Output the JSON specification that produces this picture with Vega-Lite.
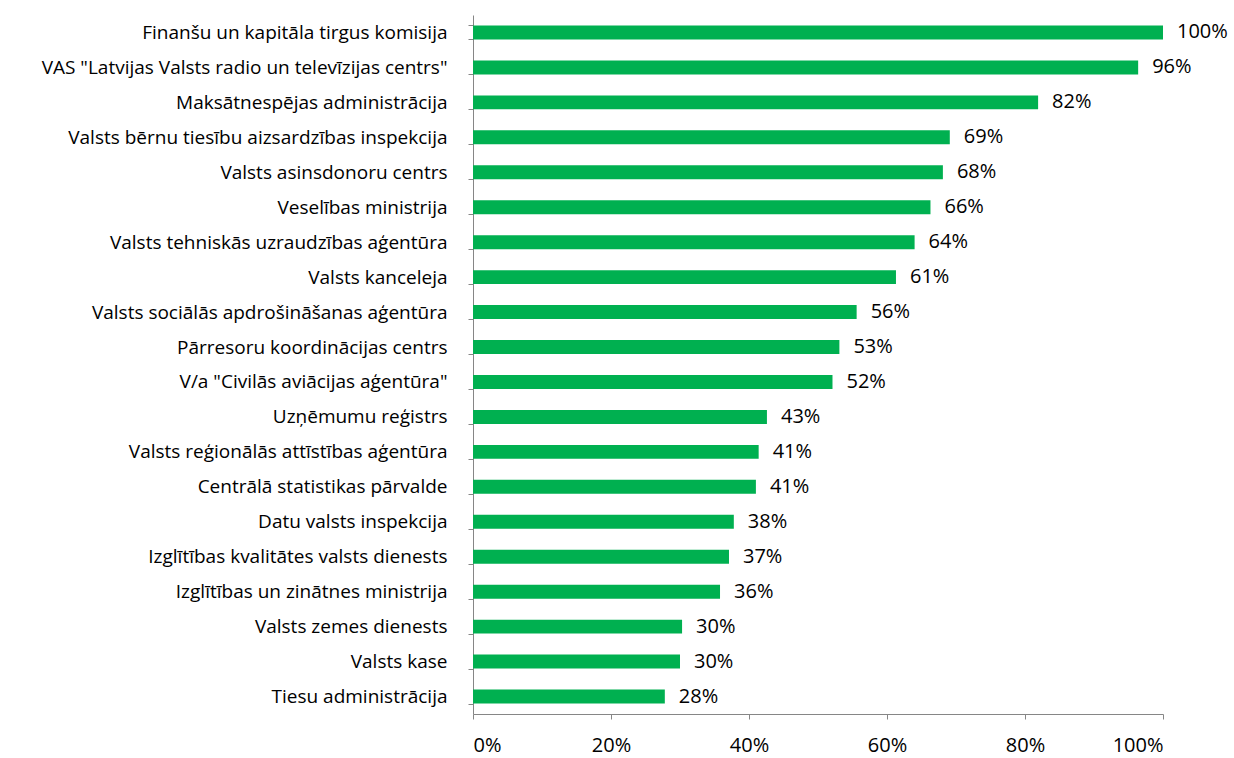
{
  "$schema": "https://vega.github.io/schema/vega-lite/v6.json",
  "autosize": "none",
  "padding": {"left": 473, "top": 15, "right": 71, "bottom": 44},
  "width": 690,
  "height": 699,
  "background": "white",
  "config": {
    "view": {"stroke": null},
    "font": "Open Sans",
    "axis": {"labelFont": "Open Sans", "labelFontSize": 19, "labelColor": "#000000", "domainColor": "#868686", "tickColor": "#868686", "grid": false, "title": null}
  },
  "data": {
    "values": [
      {"org": "Finanšu un kapitāla tirgus komisija", "v": 1.0},
      {"org": "VAS \"Latvijas Valsts radio un televīzijas centrs\"", "v": 0.964},
      {"org": "Maksātnespējas administrācija", "v": 0.819},
      {"org": "Valsts bērnu tiesību aizsardzības inspekcija", "v": 0.691},
      {"org": "Valsts asinsdonoru centrs", "v": 0.681},
      {"org": "Veselības ministrija", "v": 0.663},
      {"org": "Valsts tehniskās uzraudzības aģentūra", "v": 0.64},
      {"org": "Valsts kanceleja", "v": 0.613},
      {"org": "Valsts sociālās apdrošināšanas aģentūra", "v": 0.556},
      {"org": "Pārresoru koordinācijas centrs", "v": 0.531},
      {"org": "V/a \"Civilās aviācijas aģentūra\"", "v": 0.521},
      {"org": "Uzņēmumu reģistrs", "v": 0.426},
      {"org": "Valsts reģionālās attīstības aģentūra", "v": 0.414},
      {"org": "Centrālā statistikas pārvalde", "v": 0.41},
      {"org": "Datu valsts inspekcija", "v": 0.378},
      {"org": "Izglītības kvalitātes valsts dienests", "v": 0.371},
      {"org": "Izglītības un zinātnes ministrija", "v": 0.358},
      {"org": "Valsts zemes dienests", "v": 0.303},
      {"org": "Valsts kase", "v": 0.3},
      {"org": "Tiesu administrācija", "v": 0.278}
    ]
  },
  "encoding": {
    "y": {
      "field": "org", "type": "nominal", "sort": null,
      "scale": {"paddingInner": 0.6, "paddingOuter": 0.3},
      "axis": {"tickBand": "extent", "tickSize": 5, "labelPadding": 21, "labelLimit": 600}
    },
    "x": {
      "field": "v", "type": "quantitative",
      "scale": {"domain": [0, 1], "nice": false},
      "axis": {"format": ".0%", "values": [0, 0.2, 0.4, 0.6, 0.8, 1], "tickSize": 5, "labelPadding": 16, "labelFontSize": 20}
    }
  },
  "layer": [
    {"mark": {"type": "bar", "color": "#00B050"}},
    {
      "mark": {"type": "text", "align": "left", "dx": 14, "fontSize": 20, "font": "Open Sans", "color": "#000000"},
      "encoding": {"text": {"field": "v", "type": "quantitative", "format": ".0%"}}
    }
  ]
}
